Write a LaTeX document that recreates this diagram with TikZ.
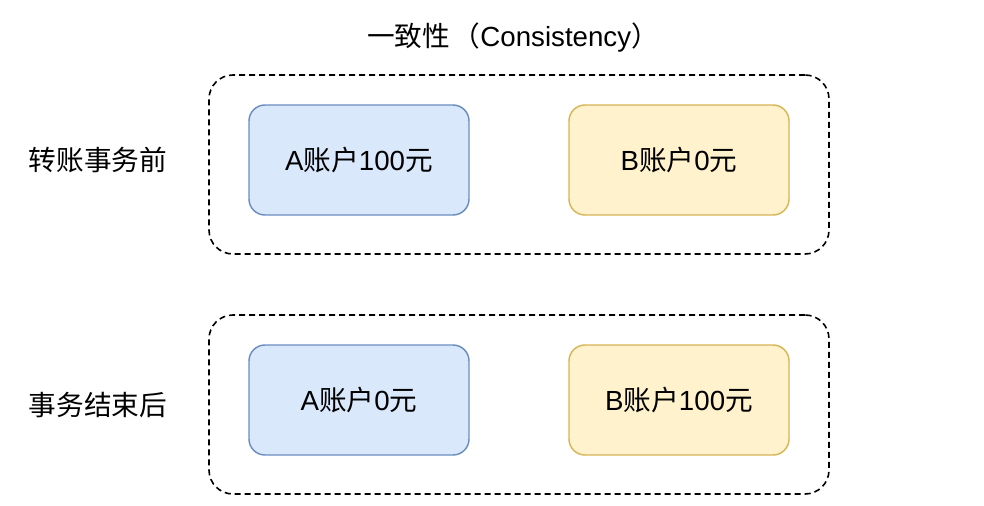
\documentclass[tikz,border=0pt]{standalone}
\usepackage{fontspec}
\setmainfont{Liberation Sans}
\newfontfamily\cjk{Noto Sans CJK SC}
\definecolor{bluefill}{HTML}{DAE8FC}
\definecolor{bluedraw}{HTML}{6C8EBF}
\definecolor{yelfill}{HTML}{FFF2CC}
\definecolor{yeldraw}{HTML}{D6B656}
\begin{document}
\begin{tikzpicture}[x=0.75pt,y=-0.75pt,
  txt/.style={font=\fontsize{20.75pt}{24pt}\selectfont, inner sep=0pt},
  group/.style={draw=black, line width=1.2pt, dash pattern=on 4.5pt off 3pt, rounded corners=18pt, minimum width=465pt, minimum height=134.25pt},
  acct/.style={txt, rounded corners=12pt, line width=1.1pt, minimum width=165pt, minimum height=82.5pt},
  bluebox/.style={acct, fill=bluefill, draw=bluedraw},
  yelbox/.style={acct, fill=yelfill, draw=yeldraw}]
\useasboundingbox (0,0) rectangle (984,506);
\node[txt] (title) at (513,38) {{\cjk 一致性\hspace{2pt}（}Consistency{\cjk ）}};
\node[group] (g1) at (519,164.5) {};
\node[group] (g2) at (519,404.5) {};
\node[bluebox] (a1) at (359,160) {A{\cjk 账户}100{\cjk 元}};
\node[yelbox] (b1) at (679,160) {B{\cjk 账户}0{\cjk 元}};
\node[bluebox] (a2) at (359,400) {A{\cjk 账户}0{\cjk 元}};
\node[yelbox] (b2) at (679,400) {B{\cjk 账户}100{\cjk 元}};
\node[txt] (l1) at (98,160) {\cjk 转账事务前};
\node[txt] (l2) at (98,405) {\cjk 事务结束后};
\end{tikzpicture}
\end{document}
